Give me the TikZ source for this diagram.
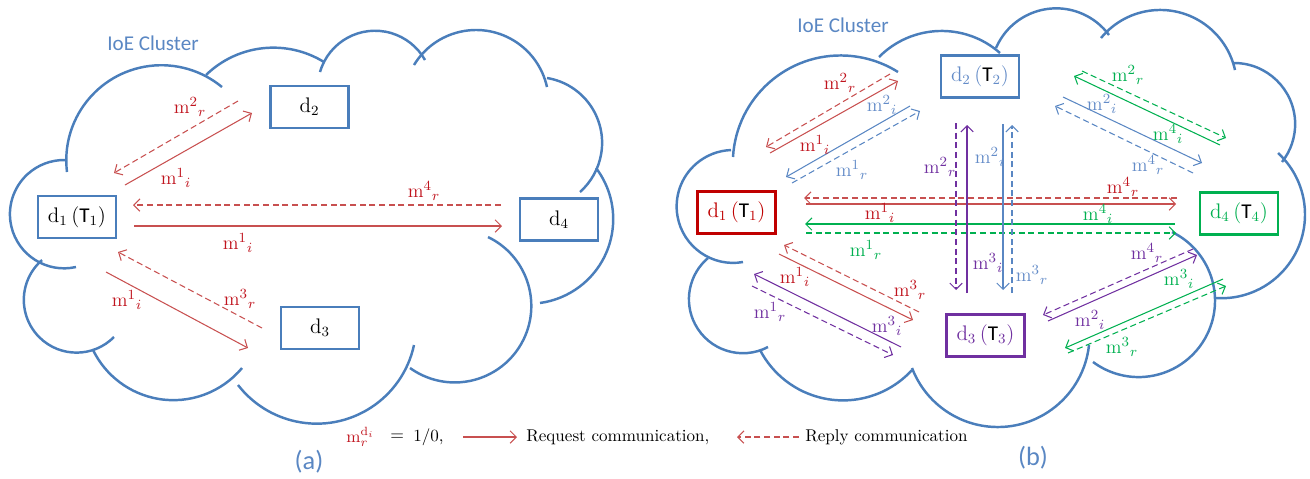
\documentclass[tikz,border=0pt]{standalone}
\usepackage{fontspec}
\newfontfamily\calib{Carlito}
\usetikzlibrary{arrows.meta}
\definecolor{cloudblue}{RGB}{74,126,187}
\definecolor{lred}{RGB}{200,80,80}
\definecolor{tred}{RGB}{192,20,30}
\definecolor{bred}{RGB}{192,0,0}
\definecolor{lblue}{RGB}{90,135,195}
\definecolor{tblue}{RGB}{100,140,200}
\definecolor{lgreen}{RGB}{0,176,80}
\definecolor{lpurple}{RGB}{112,48,160}

\newcommand\cloudlobe[6]{%
  \pgfmathsetmacro\lbBx{(#3-#1)/100}%
  \pgfmathsetmacro\lbBy{(#4-#2)/100}%
  \pgfmathsetmacro\lbCx{(#5-#1)/100}%
  \pgfmathsetmacro\lbCy{(#6-#2)/100}%
  \pgfmathsetmacro\lbD{2*(\lbBx*\lbCy-\lbBy*\lbCx)}%
  \pgfmathsetmacro\lbB{\lbBx*\lbBx+\lbBy*\lbBy}%
  \pgfmathsetmacro\lbC{\lbCx*\lbCx+\lbCy*\lbCy}%
  \pgfmathsetmacro\lbUx{(\lbCy*\lbB-\lbBy*\lbC)/\lbD}%
  \pgfmathsetmacro\lbUy{(\lbBx*\lbC-\lbCx*\lbB)/\lbD}%
  \pgfmathsetmacro\lbR{100*sqrt(\lbUx*\lbUx+\lbUy*\lbUy)}%
  \pgfmathsetmacro\lbA{atan2(-\lbUy,-\lbUx)}%
  \pgfmathsetmacro\lbAB{atan2(\lbBy-\lbUy,\lbBx-\lbUx)}%
  \pgfmathsetmacro\lbAC{atan2(\lbCy-\lbUy,\lbCx-\lbUx)}%
  \pgfmathsetmacro\lbdB{mod(\lbAB-\lbA+720,360)}%
  \pgfmathsetmacro\lbdC{mod(\lbAC-\lbA+720,360)}%
  \pgfmathsetmacro\lbS{\lbdB<\lbdC ? \lbdC : \lbdC-360}%
  \draw[cloudline] (#1,#2) arc[start angle=\lbA, delta angle=\lbS, radius=\lbR];%
}
\newcommand\arw[4]{\coordinate (#1s) at (#2); \coordinate (#1e) at (#3); \draw[#4] (#1s) -- (#1e);}
\newcommand\lab[5]{\node[lab=#3] (#1) at (#2) {$\mathrm{m}^{#4}{}_{#5}$};}
\newcommand\tT{{\calib T}}

\begin{document}
\begin{tikzpicture}[x=0.02cm,y=-0.02cm,
  cloudline/.style={draw=cloudblue,line width=1.4pt},
  box/.style={draw=#1,line width=1.4pt,fill=white,minimum width=1.56cm,minimum height=0.84cm,inner sep=0pt,font=\fontsize{12}{14}\selectfont},
  req/.style={draw=#1,line width=0.6pt,-{Straight Barb[length=3.5pt,width=7pt]}},
  rep/.style={req=#1,dash pattern=on 3.5pt off 2pt},
  lab/.style={text=#1,inner sep=0pt,font=\fontsize{11}{13}\selectfont},
  ttl/.style={text=lblue,inner sep=0pt,font=\calib\fontsize{12}{14}\selectfont},
  leg/.style={inner sep=0pt,anchor=west,font=\fontsize{9.7}{11}\selectfont},
]
\useasboundingbox (0,0) rectangle (1310,478);

% ---------- cloud (a)
\cloudlobe{67}{172}{106}{83}{222}{87}
\cloudlobe{206}{75}{265}{48}{324}{62}
\cloudlobe{320}{72}{363}{32}{425}{60}
\cloudlobe{414}{65}{475}{30}{547}{87}
\cloudlobe{547}{78}{598}{120}{580}{192}
\cloudlobe{596}{168}{613}{225}{540}{303}
\cloudlobe{488}{237}{530}{320}{410}{368}
\cloudlobe{414}{345}{328}{423}{238}{385}
\cloudlobe{242}{368}{168}{400}{93}{350}
\cloudlobe{114}{337}{27}{318}{42}{260}
\cloudlobe{76}{267}{10}{217}{65}{160}

% ---------- cloud (b)
\cloudlobe{733}{157}{801}{63}{898}{72}
\cloudlobe{879}{57}{928}{32}{1000}{53}
\cloudlobe{996}{48}{1047}{9}{1109}{35}
\cloudlobe{1101}{38}{1163}{10}{1235}{70}
\cloudlobe{1233}{63}{1295}{120}{1282}{162}
\cloudlobe{1278}{153}{1305}{215}{1215}{298}
\cloudlobe{1172}{232}{1215}{300}{1093}{362}
\cloudlobe{1089}{345}{1000}{427}{912}{368}
\cloudlobe{912}{370}{822}{398}{760}{350}
\cloudlobe{768}{347}{690}{310}{708}{258}
\cloudlobe{743}{262}{677}{213}{731}{150}

\node[ttl] (ta) at (153,43) {IoE Cluster};
\node[ttl] (tb) at (843,25) {IoE Cluster};
\node[ttl,font=\calib\fontsize{15}{17}\selectfont] (capa) at (309,462) {(a)};
\node[ttl,font=\calib\fontsize{15}{17}\selectfont] (capb) at (1033,458) {(b)};

% ---------- boxes (a)
\node[box=cloudblue] (ad1) at (77,217) {$\mathrm{d}_1\,$(\tT$_1$)};
\node[box=cloudblue] (ad2) at (309.5,107) {$\mathrm{d}_2$};
\node[box=cloudblue] (ad3) at (320,328) {$\mathrm{d}_3$};
\node[box=cloudblue] (ad4) at (559,219.5) {$\mathrm{d}_4$};

% ---------- arrows (a)
\arw{a1}{125,185}{252,113}{req=lred}
\arw{a2}{238,101}{114,173}{rep=lred}
\arw{a3}{501,205}{133,205}{rep=lred}
\arw{a4}{134,226}{502,226}{req=lred}
\arw{a5}{106,272}{248,348}{req=lred}
\arw{a6}{262,328}{118,252}{rep=lred}

\lab{la1}{190,107}{tred}{2}{r}
\lab{la2}{176,178}{tred}{1}{i}
\lab{la3}{424,191}{tred}{4}{r}
\lab{la4}{238,243}{tred}{1}{i}
\lab{la5}{127,300}{tred}{1}{i}
\lab{la6}{240,299}{tred}{3}{r}

% ---------- boxes (b)
\node[box=bred,text=bred] (bd1) at (736.5,212.5) {$\mathrm{d}_1\,$({\color{black}\tT}$_1$)};
\node[box=cloudblue,text=tblue] (bd2) at (980,76.5) {$\mathrm{d}_2\,$({\color{black}\tT}$_2$)};
\node[box=lpurple,text=lpurple] (bd3) at (985.5,335.5) {$\mathrm{d}_3\,$({\color{black}\tT}$_3$)};
\node[box=lgreen,text=lgreen] (bd4) at (1239,213.5) {$\mathrm{d}_4\,$({\color{black}\tT}$_4$)};

% ---------- arrows (b)
\arw{b1}{890,74}{766,147}{rep=lred}
\arw{b2}{770,153}{898,81}{req=lred}
\arw{b3}{910,106}{786,177}{req=lblue}
\arw{b4}{792,183}{920,111}{rep=lblue}
\arw{b5}{1082,71}{1226,138}{rep=lgreen}
\arw{b6}{1220,145}{1074,76}{req=lgreen}
\arw{b7}{1063,97}{1202,163}{req=lblue}
\arw{b8}{1193,173}{1055,106}{rep=lblue}
\arw{b9}{1177,198}{804,198}{rep=lred}
\arw{b10}{806,204}{1176,204}{req=lred}
\arw{b11}{1175,224}{805,224}{req=lgreen}
\arw{b12}{806,233}{1176,233}{rep=lgreen}
\arw{b13}{956,123}{956,290}{rep=lpurple}
\arw{b14}{967,293}{967,125}{req=lpurple}
\arw{b15}{1003,124}{1003,290}{req=lblue}
\arw{b16}{1012,293}{1012,125}{rep=lblue}
\arw{b17}{919,312}{784,245}{rep=lred}
\arw{b18}{779,254}{913,320}{req=lred}
\arw{b19}{901,347}{754,274}{req=lpurple}
\arw{b20}{752,286}{893,355}{rep=lpurple}
\arw{b21}{1193,249}{1043,315}{rep=lpurple}
\arw{b22}{1048,321}{1197,255}{req=lpurple}
\arw{b23}{1223,279}{1065,348}{req=lgreen}
\arw{b24}{1068,353}{1226,286}{rep=lgreen}

\lab{lb1}{840,83}{tred}{2}{r}
\lab{lb2}{882,105}{tblue}{2}{i}
\lab{lb3}{815,145}{tred}{1}{i}
\lab{lb4}{852,170}{tblue}{1}{r}
\lab{lb5}{1128,75}{lgreen}{2}{r}
\lab{lb6}{1102,104}{tblue}{2}{i}
\lab{lb7}{1168,134}{lgreen}{4}{i}
\lab{lb8}{1148,165}{tblue}{4}{r}
\lab{lb9}{940,167}{lpurple}{2}{r}
\lab{lb10}{990,157}{tblue}{2}{i}
\lab{lb11}{988,263}{lpurple}{3}{i}
\lab{lb12}{1032,275}{tblue}{3}{r}
\lab{lb13}{1123,187}{tred}{4}{r}
\lab{lb14}{880,213}{tred}{1}{i}
\lab{lb15}{1098,214}{lgreen}{4}{i}
\lab{lb16}{866,250}{lgreen}{1}{r}
\lab{lb17}{795,277}{tred}{1}{i}
\lab{lb18}{910,290}{tred}{3}{r}
\lab{lb19}{770,312}{lpurple}{1}{r}
\lab{lb20}{887,326}{lpurple}{3}{i}
\lab{lb21}{1147,253}{lpurple}{4}{r}
\lab{lb22}{1179,279}{lgreen}{3}{i}
\lab{lb23}{1090,320}{lpurple}{2}{i}
\lab{lb24}{1122,347}{lgreen}{3}{r}

% ---------- legend
\node[leg,text=tred] (lgm) at (346,437) {$\mathrm{m}_r^{\mathrm{d}_i}$};
\node[leg] (lgeq) at (390,437) {$=$};
\node[leg] (lgv) at (413,437) {1/0,};
\coordinate (lgr1) at (463,437);
\coordinate (lgr2) at (517,437);
\draw[req=lred] (lgr1) -- (lgr2);
\node[leg] (lgreq) at (526,437) {Request communication,};
\coordinate (lgp1) at (799,437);
\coordinate (lgp2) at (737,437);
\draw[rep=lred] (lgp1) -- (lgp2);
\node[leg] (lgrep) at (805,437) {Reply communication};
\end{tikzpicture}
\end{document}
